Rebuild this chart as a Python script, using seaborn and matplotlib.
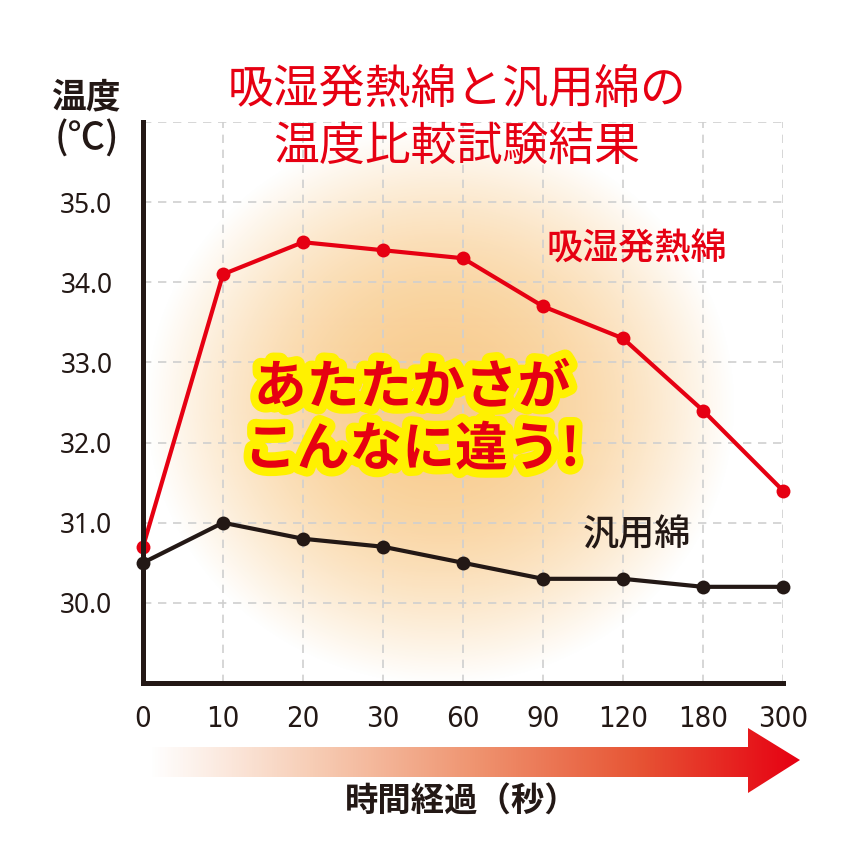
import matplotlib
matplotlib.use('Agg')
import matplotlib.pyplot as plt
import matplotlib.patheffects as pe
from matplotlib.patches import Polygon
from matplotlib.colors import LinearSegmentedColormap
import numpy as np
import pandas as pd
import seaborn as sns

# データ
times = ['0', '10', '20', '30', '60', '90', '120', '180', '300']
heat_cotton = [30.7, 34.1, 34.5, 34.4, 34.3, 33.7, 33.3, 32.4, 31.4]
plain_cotton = [30.5, 31.0, 30.8, 30.7, 30.5, 30.3, 30.3, 30.2, 30.2]
series_names = ['吸湿発熱綿', '汎用綿']
y_ticks = [30, 31, 32, 33, 34, 35, 36]
y_labels = ['30.0', '31.0', '32.0', '33.0', '34.0', '35.0', '']

df = pd.DataFrame({
    'pos': list(range(len(times))) * 2,
    'temp': heat_cotton + plain_cotton,
    'series': [series_names[0]] * len(times) + [series_names[1]] * len(times),
})

sns.set_theme(style='white')
plt.rcParams['font.family'] = ['Noto Sans CJK JP', 'DejaVu Sans']

W, H = 860, 855
fig = plt.figure(figsize=(W / 100, H / 100), dpi=100)
fig.patch.set_facecolor('white')

# 背景のオレンジのぼかし
bg = fig.add_axes([0, 0, 1, 1], zorder=0)
bg.set_xlim(0, W)
bg.set_ylim(H, 0)
bg.axis('off')
gx, gy = np.meshgrid(np.arange(W), np.arange(H))
r = np.sqrt(((gx - 440) / 295) ** 2 + ((gy - 405) / 280) ** 2)
alpha = np.clip(1 - r ** 2, 0, 1) ** 1.1 * 0.82
glow = np.zeros((H, W, 4))
glow[..., 0] = 247 / 255
glow[..., 1] = 193 / 255
glow[..., 2] = 118 / 255
glow[..., 3] = alpha
bg.imshow(glow, extent=(0, W, H, 0), interpolation='bilinear')

# メインのグラフ
ax = fig.add_axes([143 / W, 1 - 683 / H, 640 / W, 561 / H], zorder=1)
ax.set_facecolor('none')
sns.lineplot(data=df, x='pos', y='temp', hue='series',
             palette={series_names[0]: '#E60012', series_names[1]: '#231815'},
             marker='o', markersize=10, markeredgewidth=0, linewidth=3,
             legend=False, ax=ax, zorder=5)
for ln in ax.lines:
    ln.set_clip_on(False)

ax.set_xlim(0, len(times) - 1)
ax.set_ylim(29, 36)
ax.set_xticks(range(len(times)))
ax.set_xticklabels(times, family='DejaVu Sans', stretch='condensed',
                   fontsize=21, color='#231815')
ax.set_yticks(y_ticks)
ax.set_yticklabels(y_labels, family=['Noto Sans', 'DejaVu Sans'],
                   fontsize=19, color='#231815')
ax.tick_params(axis='both', length=0)
ax.tick_params(axis='x', pad=16)
ax.tick_params(axis='y', pad=22)
ax.set_xlabel('')
ax.set_ylabel('')
ax.grid(True, color='#CFCFCF', linestyle=(0, (5, 4)), linewidth=1.2)
for s in ['top', 'right']:
    ax.spines[s].set_visible(False)
for s in ['left', 'bottom']:
    ax.spines[s].set_color('#231815')
    ax.spines[s].set_linewidth(3.6)
    ax.spines[s].set_zorder(6)

# 文字と矢印
ov = fig.add_axes([0, 0, 1, 1], zorder=3)
ov.set_xlim(0, W)
ov.set_ylim(H, 0)
ov.axis('off')

ov.text(457, 90, '吸湿発熱綿と汎用綿の', color='#E60012', fontsize=33,
        ha='center', va='center', fontweight='regular')
ov.text(457, 147, '温度比較試験結果', color='#E60012', fontsize=33,
        ha='center', va='center', fontweight='regular')
ov.text(86, 97, '温度', color='#231815', fontsize=25, ha='center', va='center',
        fontweight='bold')
ov.text(87, 139, '(℃)', color='#231815', fontsize=27, ha='center', va='center',
        fontweight='medium')
ov.text(637, 250, series_names[0], color='#E60012', fontsize=26,
        ha='center', va='center', fontweight='medium')
ov.text(637, 535, series_names[1], color='#231815', fontsize=26,
        ha='center', va='center', fontweight='medium')

stroke = [pe.withStroke(linewidth=12, foreground='#FFF100')]
ov.text(412, 388, 'あたたかさが', color='#E60012', fontsize=38,
        ha='center', va='center', fontweight='bold', path_effects=stroke)
ov.text(412, 450, 'こんなに違う!', color='#E60012', fontsize=38,
        ha='center', va='center', fontweight='bold', path_effects=stroke)

arrow = Polygon([(150, 747), (748, 747), (748, 728), (800, 760), (748, 793),
                 (748, 777), (150, 777)], closed=True, facecolor='none',
                edgecolor='none')
ov.add_patch(arrow)
cmap = LinearSegmentedColormap.from_list(
    'arr', ['#FFFFFF', '#F7CDB5', '#EF9470', '#E75535', '#E60012'])
grad = np.linspace(0, 1, 512).reshape(1, -1)
im = ov.imshow(grad, cmap=cmap, extent=(150, 800, 793, 728), aspect='auto')
im.set_clip_path(arrow)
ov.set_xlim(0, W)
ov.set_ylim(H, 0)

ov.text(462, 801, '時間経過（秒）', color='#231815', fontsize=24,
        ha='center', va='center', fontweight='bold')

fig.savefig('out.png', dpi=100, facecolor='white')
